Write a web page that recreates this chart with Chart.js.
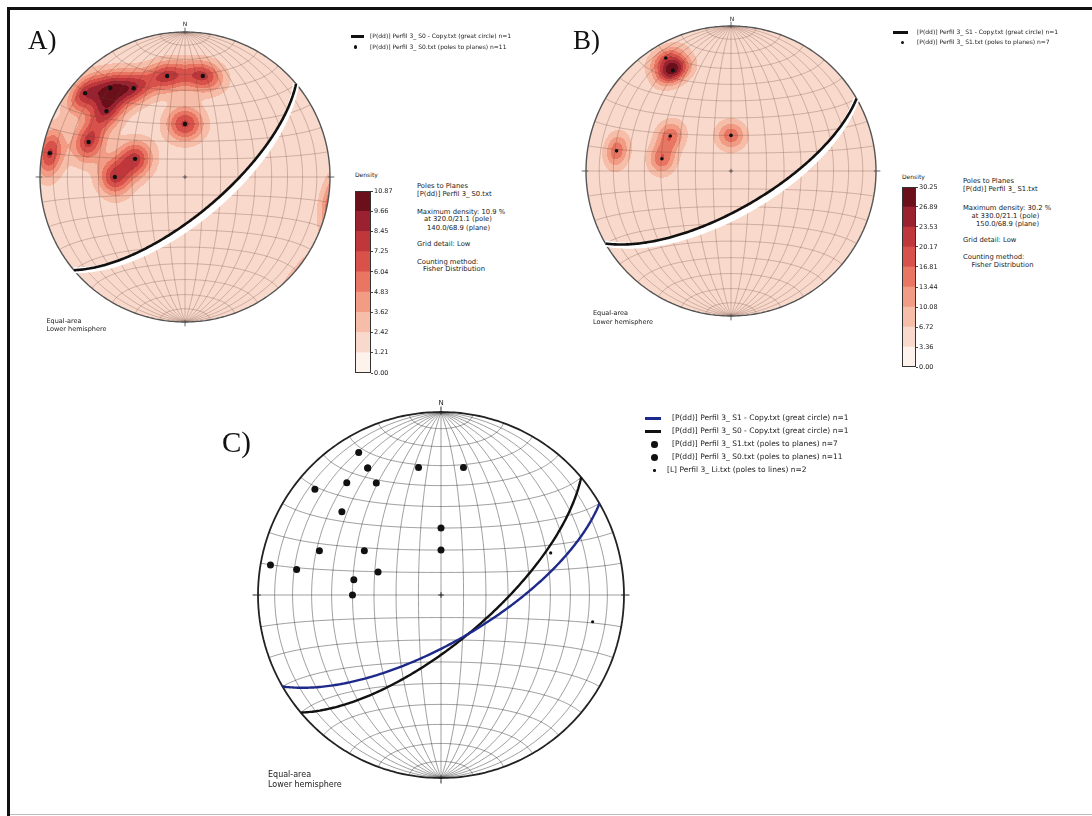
<!DOCTYPE html>
<html>
<head>
<meta charset="utf-8">
<script src="https://cdn.jsdelivr.net/npm/chart.js@4.4.1/dist/chart.umd.min.js"></script>
<style>
  body { margin: 0; background: #fff; }
  #page { position: relative; width: 1092px; height: 816px; overflow: hidden; background: #fff; }
  canvas { position: absolute; }
  .t { position: absolute; white-space: nowrap; line-height: 1; color: #1a1a1a; font-family: "DejaVu Sans", sans-serif; }
  .panel { position: absolute; line-height: 1; font-family: "Liberation Serif", serif; color: #111; }
  .sym { position: absolute; background: #111; }
  .dot { position: absolute; background: #111; border-radius: 50%; }
</style>
</head>
<body>
<div id="page">
  <div style="position:absolute;left:7px;top:7px;width:1085px;height:3px;background:#111"></div>
  <div style="position:absolute;left:7px;top:7px;width:3px;height:809px;background:#111"></div>
  <div style="position:absolute;left:10px;top:814px;width:1082px;height:1px;background:#bbb"></div>

  <canvas id="netA" width="314" height="314" style="left:28px;top:20px"></canvas>
  <canvas id="netB" width="314" height="314" style="left:574px;top:14px"></canvas>
  <canvas id="netC" width="390" height="390" style="left:246px;top:400px"></canvas>
  <canvas id="barA" width="42" height="192" style="left:355px;top:186px"></canvas>
  <canvas id="barB" width="40" height="190" style="left:902px;top:182px"></canvas>

  <div class="panel" style="left:28px;top:27px;font-size:27px">A)</div>
  <div class="panel" style="left:573px;top:27px;font-size:27px">B)</div>
  <div class="panel" style="left:222px;top:428px;font-size:29px">C)</div>

  <div class="t" style="left:175px;width:20px;text-align:center;top:20.5px;font-size:6px">N</div>
  <div class="t" style="left:722px;width:20px;text-align:center;top:15.5px;font-size:6px">N</div>
  <div class="t" style="left:431px;width:20px;text-align:center;top:400px;font-size:7px">N</div>

  <!-- legend A -->
  <div class="sym" style="left:351px;top:35px;width:13px;height:2.5px"></div>
  <div class="dot" style="left:353.5px;top:45px;width:3.5px;height:3.5px"></div>
  <div class="t" style="left:370px;top:33px;font-size:6px">[P(dd)] Perfil 3_ S0 - Copy.txt (great circle) n=1</div>
  <div class="t" style="left:370px;top:43.5px;font-size:6px">[P(dd)] Perfil 3_ S0.txt (poles to planes) n=11</div>

  <!-- legend B -->
  <div class="sym" style="left:893px;top:31px;width:15px;height:3px"></div>
  <div class="dot" style="left:901px;top:41px;width:3px;height:3px"></div>
  <div class="t" style="left:917px;top:29px;font-size:6px">[P(dd)] Perfil 3_ S1 - Copy.txt (great circle) n=1</div>
  <div class="t" style="left:917px;top:39px;font-size:6px">[P(dd)] Perfil 3_ S1.txt (poles to planes) n=7</div>

  <!-- info A -->
  <div class="t" style="left:355px;top:172px;font-size:6px">Density</div>
  <div class="t" style="left:417px;top:183px;font-size:6.8px">Poles to Planes</div>
  <div class="t" style="left:417px;top:190.6px;font-size:6.8px">[P(dd)] Perfil 3_ S0.txt</div>
  <div class="t" style="left:417px;top:208.6px;font-size:6.8px">Maximum density: 10.9 %</div>
  <div class="t" style="left:424px;top:216.3px;font-size:6.8px">at 320.0/21.1 (pole)</div>
  <div class="t" style="left:427px;top:224.6px;font-size:6.8px">140.0/68.9 (plane)</div>
  <div class="t" style="left:417px;top:241.3px;font-size:6.8px">Grid detail: Low</div>
  <div class="t" style="left:417px;top:258.6px;font-size:6.8px">Counting method:</div>
  <div class="t" style="left:423px;top:266.3px;font-size:6.8px">Fisher Distribution</div>

  <!-- info B -->
  <div class="t" style="left:902px;top:173.5px;font-size:6px">Density</div>
  <div class="t" style="left:963px;top:178px;font-size:6.8px">Poles to Planes</div>
  <div class="t" style="left:963px;top:186.3px;font-size:6.8px">[P(dd)] Perfil 3_ S1.txt</div>
  <div class="t" style="left:963px;top:204.6px;font-size:6.8px">Maximum density: 30.2 %</div>
  <div class="t" style="left:971.5px;top:213px;font-size:6.8px">at 330.0/21.1 (pole)</div>
  <div class="t" style="left:976px;top:221.3px;font-size:6.8px">150.0/68.9 (plane)</div>
  <div class="t" style="left:963px;top:237.3px;font-size:6.8px">Grid detail: Low</div>
  <div class="t" style="left:963px;top:254px;font-size:6.8px">Counting method:</div>
  <div class="t" style="left:971.5px;top:262px;font-size:6.8px">Fisher Distribution</div>

  <!-- projection notes -->
  <div class="t" style="left:46.5px;top:318.4px;font-size:6.5px">Equal-area</div>
  <div class="t" style="left:46.5px;top:326px;font-size:6.5px">Lower hemisphere</div>
  <div class="t" style="left:593px;top:310.4px;font-size:6.5px">Equal-area</div>
  <div class="t" style="left:593px;top:319.4px;font-size:6.5px">Lower hemisphere</div>
  <div class="t" style="left:268px;top:770.6px;font-size:8px">Equal-area</div>
  <div class="t" style="left:268px;top:780.6px;font-size:8px">Lower hemisphere</div>

  <!-- legend C -->
  <div class="sym" style="left:645px;top:417px;width:16px;height:2.5px;background:#1e2a8a"></div>
  <div class="sym" style="left:645px;top:430px;width:16px;height:2.5px"></div>
  <div class="dot" style="left:651px;top:441px;width:6.5px;height:6.5px"></div>
  <div class="dot" style="left:651px;top:454px;width:7px;height:7px"></div>
  <div class="dot" style="left:653px;top:469px;width:2.5px;height:2.5px"></div>
  <div class="t" style="left:672px;top:414px;font-size:7.5px">[P(dd)] Perfil 3_ S1 - Copy.txt (great circle) n=1</div>
  <div class="t" style="left:672px;top:427px;font-size:7.5px">[P(dd)] Perfil 3_ S0 - Copy.txt (great circle) n=1</div>
  <div class="t" style="left:672px;top:440px;font-size:7.5px">[P(dd)] Perfil 3_ S1.txt (poles to planes) n=7</div>
  <div class="t" style="left:672px;top:453px;font-size:7.5px">[P(dd)] Perfil 3_ S0.txt (poles to planes) n=11</div>
  <div class="t" style="left:667px;top:466px;font-size:7.5px">[L] Perfil 3_ Li.txt (poles to lines) n=2</div>
</div>

<script>
// poles to planes, trend / plunge (degrees)
const s0Trend  = [310, 320, 330, 350, 10, 310, 0, 290, 280, 290, 270];
const s0Plunge = [11, 21, 30, 30, 30, 30, 60, 30, 6, 60, 50];
const s1Trend  = [330, 330, 330, 300, 0, 280, 280];
const s1Plunge = [11, 21, 21, 50, 70, 21, 50];
// lineation file
const liTrend  = [69, 100];
const liPlunge = [36, 17];
// great circles: dip direction, dip
const s0Plane = [140, 68.9];
const s1Plane = [150, 68.9];
// density colour bar levels (%)
const s0Levels = [0.00, 1.21, 2.42, 3.62, 4.83, 6.04, 7.25, 8.45, 9.66, 10.87];
const s1Levels = [0.00, 3.36, 6.72, 10.08, 13.44, 16.81, 20.17, 23.53, 26.89, 30.25];
const levelColors = ['#fdf3ec', '#f9d9cb', '#f6bda9', '#f29c85', '#e97663', '#d8524b', '#bf373b', '#9a2130', '#6b0f1a'];

const rad = d => d * Math.PI / 180;

function lineVec(trend, plunge) {
    return [Math.cos(rad(plunge)) * Math.sin(rad(trend)), Math.cos(rad(plunge)) * Math.cos(rad(trend)), Math.sin(rad(plunge))];
}

// equal-area, lower hemisphere; v = [east, north, down]
function project(v) {
    let [e, n, d] = v;
    if (d < 0) { e = -e; n = -n; d = -d; }
    const f = 1 / Math.sqrt(1 + d);
    return { x: e * f, y: n * f };
}

const poles = (tr, pl) => tr.map((t, i) => project(lineVec(t, pl[i])));

function greatCircle(dd, dip) {
    const s = [Math.sin(rad(dd - 90)), Math.cos(rad(dd - 90)), 0];
    const v = lineVec(dd, dip);
    const pts = [];
    for (let a = 0; a <= 180; a += 2) {
        const c = Math.cos(rad(a)), k = Math.sin(rad(a));
        pts.push(project([c * s[0] + k * v[0], c * s[1] + k * v[1], k * v[2]]));
    }
    return pts;
}

// tiny tension keeps chart.js off its fast path, which overdraws translucent lines
const line = (data, color, width, order) => ({ data, showLine: true, borderColor: color, borderWidth: width, pointRadius: 0, fill: false, tension: 0.0001, order, clip: false });

function netLines(color, width) {
    const sets = [];
    for (let dip = 10; dip < 180; dip += 10) {
        const pts = [];
        for (let a = 0; a <= 180; a += 3) {
            const c = Math.cos(rad(a)), s = Math.sin(rad(a));
            pts.push(project([s * Math.cos(rad(dip)), c, s * Math.sin(rad(dip))]));
        }
        sets.push(line(pts, color, width, 9));
    }
    for (let lat = -80; lat <= 80; lat += 10) {
        const pts = [];
        for (let a = 0; a <= 180; a += 3) {
            pts.push(project([Math.cos(rad(lat)) * Math.cos(rad(a)), Math.sin(rad(lat)), Math.cos(rad(lat)) * Math.sin(rad(a))]));
        }
        sets.push(line(pts, color, width, 9));
    }
    return sets;
}

function frame(color, width, tickColor) {
    const circ = [];
    for (let a = 0; a <= 360; a += 2) circ.push({ x: Math.sin(rad(a)), y: Math.cos(rad(a)) });
    const sets = [line(circ, color, width, 3)];
    [0, 90, 180, 270].forEach(a => {
        const sx = Math.sin(rad(a)), sy = Math.cos(rad(a));
        sets.push(line([{ x: sx * 0.985, y: sy * 0.985 }, { x: sx * 1.03, y: sy * 1.03 }], tickColor, 1, 3));
    });
    sets.push(line([{ x: -0.015, y: 0 }, { x: 0.015, y: 0 }], tickColor, 1, 3));
    sets.push(line([{ x: 0, y: -0.015 }, { x: 0, y: 0.015 }], tickColor, 1, 3));
    return sets;
}

const dots = (data, r, order) => ({ data, showLine: false, pointRadius: r, backgroundColor: '#111', borderColor: '#111', borderWidth: 0, order, clip: false });

// Fisher-style smoothing of the poles, contoured with the colour bar levels
const densityPlugin = {
    id: 'density',
    beforeDatasetsDraw(chart, args, opts) {
        if (!opts || !opts.trend) return;
        const { ctx, chartArea: a, scales: { x, y } } = chart;
        const w = Math.round(a.right - a.left), h = Math.round(a.bottom - a.top);
        const pv = opts.trend.map((t, i) => lineVec(t, opts.plunge[i]));
        const vals = new Float32Array(w * h);
        let smax = 0;
        for (let j = 0; j < h; j++) {
            for (let i = 0; i < w; i++) {
                const u = x.getValueForPixel(a.left + i + 0.5), v = y.getValueForPixel(a.top + j + 0.5);
                const r2 = u * u + v * v;
                if (r2 > 1) { vals[j * w + i] = -1; continue; }
                const d = 1 - r2, f = Math.sqrt(1 + d), e = u * f, n = v * f;
                let s = 0;
                for (const p of pv) s += Math.exp(opts.kappa * (Math.abs(e * p[0] + n * p[1] + d * p[2]) - 1));
                vals[j * w + i] = s;
                if (s > smax) smax = s;
            }
        }
        const lv = opts.levels, top = lv[lv.length - 1];
        const rgb = levelColors.map(c => [1, 3, 5].map(k => parseInt(c.substr(k, 2), 16)));
        const off = document.createElement('canvas');
        off.width = w; off.height = h;
        const octx = off.getContext('2d');
        const img = octx.createImageData(w, h);
        for (let k = 0; k < w * h; k++) {
            if (vals[k] < 0) continue;
            const dens = opts.floor + (top - opts.floor) * vals[k] / smax;
            let idx = 0;
            while (idx < 8 && dens >= lv[idx + 1]) idx++;
            const c = rgb[idx];
            img.data[k * 4] = c[0]; img.data[k * 4 + 1] = c[1]; img.data[k * 4 + 2] = c[2]; img.data[k * 4 + 3] = 255;
        }
        octx.putImageData(img, 0, 0);
        ctx.drawImage(off, a.left, a.top);
    }
};

function netChart(id, datasets, density) {
    return new Chart(document.getElementById(id), {
        type: 'scatter',
        data: { datasets },
        options: {
            responsive: false, animation: false, events: [],
            layout: { padding: 12 },
            scales: { x: { type: 'linear', min: -1, max: 1, display: false }, y: { type: 'linear', min: -1, max: 1, display: false } },
            plugins: { legend: { display: false }, tooltip: { enabled: false }, density }
        },
        plugins: [densityPlugin]
    });
}

const outlinePlugin = {
    id: 'outline',
    afterDatasetsDraw(chart) {
        const { ctx, chartArea: a } = chart;
        ctx.save();
        ctx.strokeStyle = '#333'; ctx.lineWidth = 1;
        ctx.strokeRect(a.left + 0.5, a.top + 0.5, a.right - a.left - 1, a.bottom - a.top - 1);
        ctx.restore();
    }
};

function colorBar(id, levels) {
    const datasets = levelColors.map((c, i) => ({ data: [levels[i + 1] - levels[i]], backgroundColor: c, borderWidth: 0, barPercentage: 1, categoryPercentage: 1 }));
    return new Chart(document.getElementById(id), {
        type: 'bar',
        data: { labels: ['Density'], datasets },
        options: {
            responsive: false, animation: false, events: [],
            layout: { padding: { top: 5, bottom: 5, left: 0, right: 0 } },
            scales: {
                x: { stacked: true, display: false },
                y: {
                    stacked: true, min: 0, max: levels[levels.length - 1], position: 'right',
                    afterBuildTicks: s => { s.ticks = levels.map(v => ({ value: v })); },
                    afterFit: s => { s.width = 26; },
                    ticks: { font: { size: 6.5, family: 'DejaVu Sans' }, color: '#222', padding: 1, callback: v => v.toFixed(2) },
                    grid: { drawOnChartArea: false, tickLength: 2, color: '#444' },
                    border: { display: false }
                }
            },
            plugins: { legend: { display: false }, tooltip: { enabled: false } }
        },
        plugins: [outlinePlugin]
    });
}

const pinkGrid = 'rgba(105,70,62,0.5)';

netChart('netA', [
    dots(poles(s0Trend, s0Plunge), 2.2, 0),
    line(greatCircle(s0Plane[0], s0Plane[1]), '#111', 2.6, 1),
    line(greatCircle(s0Plane[0], s0Plane[1] - 2.6), '#ffffff', 6, 2),
    ...frame('#555', 1.4, '#555'),
    ...netLines(pinkGrid, 0.6)
], { trend: s0Trend, plunge: s0Plunge, kappa: 70, floor: 1.6, levels: s0Levels });

netChart('netB', [
    dots(poles(s1Trend, s1Plunge), 1.8, 0),
    line(greatCircle(s1Plane[0], s1Plane[1]), '#111', 2.6, 1),
    line(greatCircle(s1Plane[0], s1Plane[1] - 2.6), '#ffffff', 6, 2),
    ...frame('#555', 1.4, '#555'),
    ...netLines(pinkGrid, 0.6)
], { trend: s1Trend, plunge: s1Plunge, kappa: 110, floor: 4.5, levels: s1Levels });

netChart('netC', [
    dots(poles(liTrend, liPlunge), 1.6, 0),
    dots(poles(s1Trend, s1Plunge), 3.5, 0),
    dots(poles(s0Trend, s0Plunge), 3.5, 0),
    line(greatCircle(s1Plane[0], s1Plane[1]), '#1e2a8a', 2.4, 1),
    line(greatCircle(s0Plane[0], s0Plane[1]), '#111', 2.4, 1),
    ...frame('#222', 1.8, '#222'),
    ...netLines('rgba(35,35,35,0.6)', 0.75)
], null);

colorBar('barA', s0Levels);
colorBar('barB', s1Levels);
</script>
</body>
</html>
